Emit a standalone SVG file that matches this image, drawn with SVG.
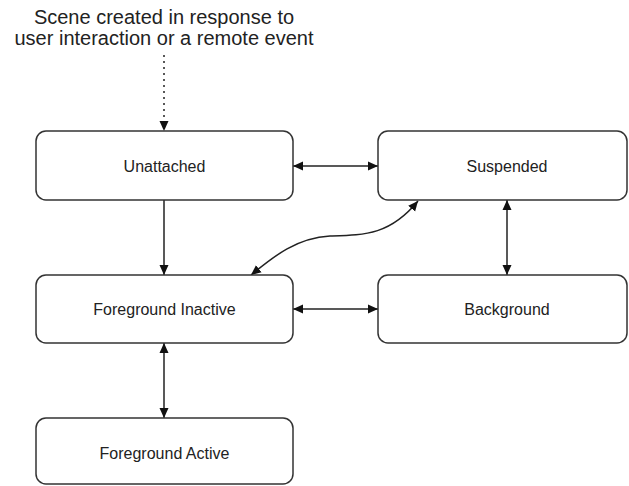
<svg xmlns="http://www.w3.org/2000/svg" width="629" height="486" viewBox="0 0 629 486">
<style>
.box{fill:#fff;stroke:#333;stroke-width:1.5}
.lbl{font-family:"Liberation Sans",Arial,sans-serif;font-size:16px;fill:#222;text-anchor:middle}
.title{font-family:"Liberation Sans",Arial,sans-serif;font-size:20px;fill:#222;text-anchor:middle}
.c{fill:none;stroke:#222;stroke-width:1.5}
</style>
<defs>
<marker id="ah" viewBox="0 0 10 10" refX="10" refY="5" markerWidth="10" markerHeight="10" markerUnits="userSpaceOnUse" orient="auto-start-reverse">
<path d="M0,0.5 L10,5 L0,9.5 Z" fill="#111"/>
</marker>
</defs>
<rect width="629" height="486" fill="#fff"/>
<g id="title">
<text class="title" x="164" y="24">Scene created in response to</text>
<text class="title" x="164" y="45">user interaction or a remote event</text>
</g>
<g id="connectors">
<path class="c" d="M164,55 L164,131" stroke-dasharray="2,4" marker-end="url(#ah)"/>
<path class="c" d="M164,200 L164,275" marker-end="url(#ah)"/>
<path class="c" d="M293,166 L378,166" marker-start="url(#ah)" marker-end="url(#ah)"/>
<path class="c" d="M507,200 L507,275" marker-start="url(#ah)" marker-end="url(#ah)"/>
<path class="c" d="M293,309 L378,309" marker-start="url(#ah)" marker-end="url(#ah)"/>
<path class="c" d="M164,343 L164,418" marker-start="url(#ah)" marker-end="url(#ah)"/>
<path class="c" d="M418,201 C390,235 365,235 330,236 C295,238 272,258 251,275" marker-start="url(#ah)" marker-end="url(#ah)"/>
</g>
<g id="unattached">
<rect class="box" x="36" y="131" width="257" height="69" rx="10"/>
<text class="lbl" x="164.5" y="172">Unattached</text>
</g>
<g id="suspended">
<rect class="box" x="378" y="131" width="249" height="69" rx="10"/>
<text class="lbl" x="507" y="172">Suspended</text>
</g>
<g id="foreground-inactive">
<rect class="box" x="36" y="275" width="257" height="68" rx="10"/>
<text class="lbl" x="164.5" y="315">Foreground Inactive</text>
</g>
<g id="background">
<rect class="box" x="378" y="275" width="249" height="68" rx="10"/>
<text class="lbl" x="507" y="315">Background</text>
</g>
<g id="foreground-active">
<rect class="box" x="36" y="418" width="257" height="66" rx="10"/>
<text class="lbl" x="164.5" y="459">Foreground Active</text>
</g>
</svg>
